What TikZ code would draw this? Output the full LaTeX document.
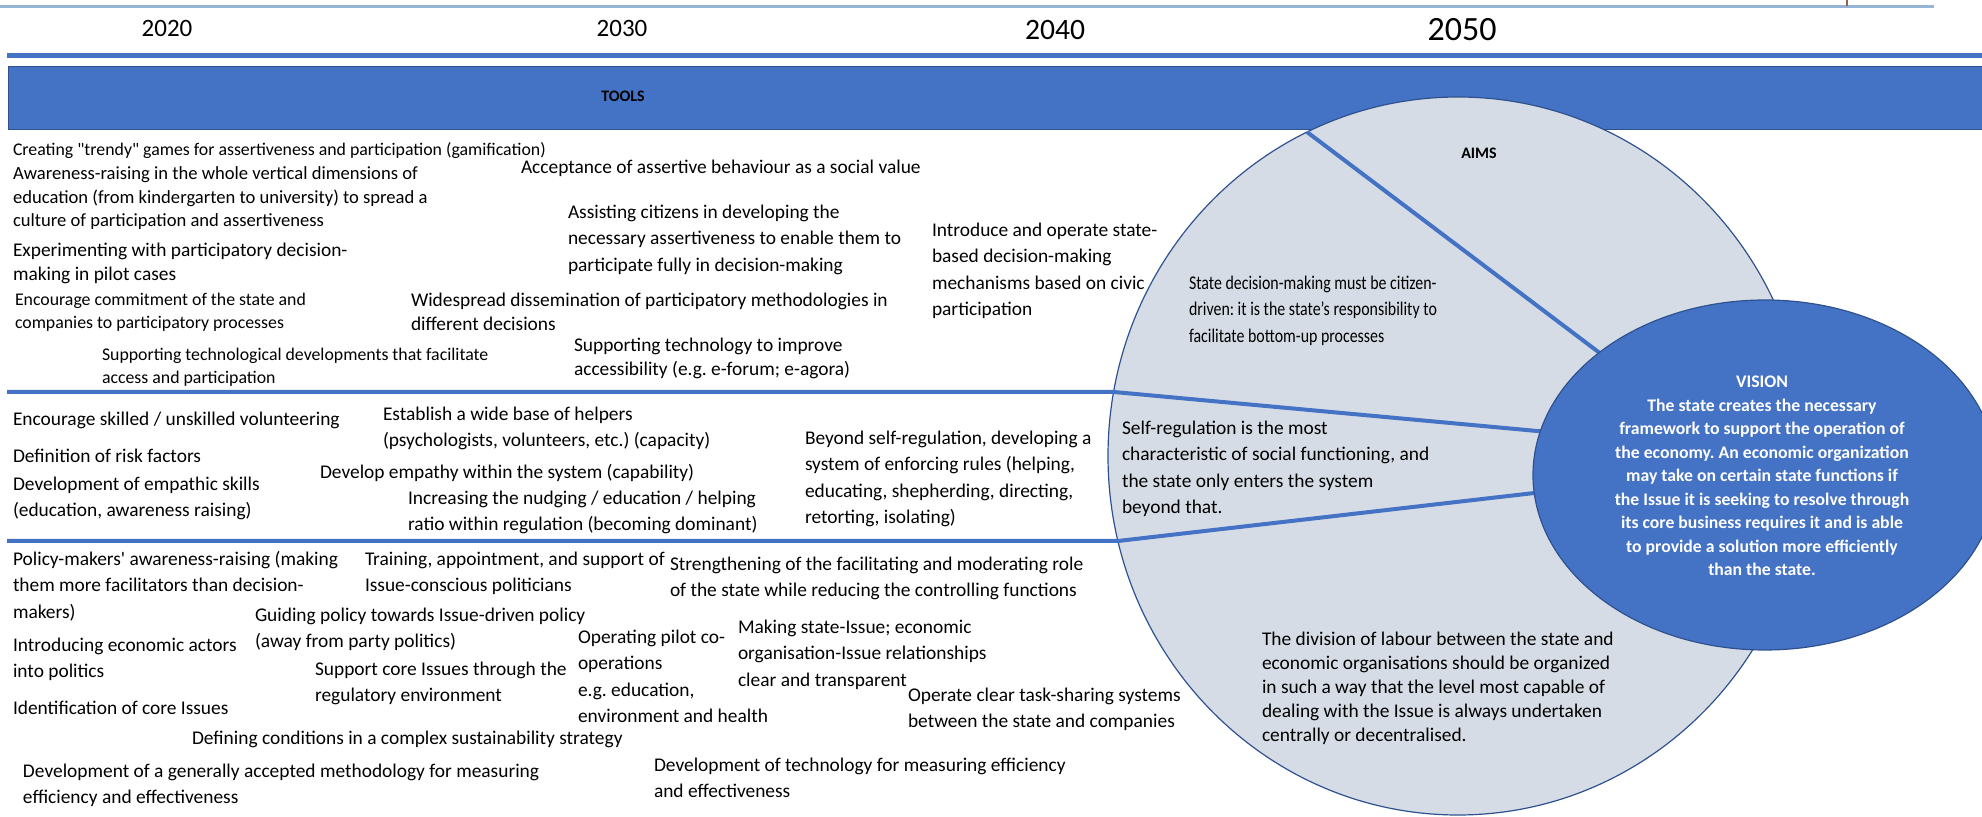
\documentclass[tikz,border=0pt]{standalone}
\usepackage{fontspec}
\setmainfont{Carlito}[Ligatures=TeXOff]
\usetikzlibrary{shapes.geometric}
\definecolor{bandblue}{RGB}{68,114,196}
\definecolor{edgeblue}{RGB}{47,82,143}
\definecolor{ellfill}{RGB}{214,220,229}
\definecolor{toprule}{RGB}{150,180,214}
\definecolor{tickcol}{RGB}{140,100,80}
\begin{document}
\frenchspacing
\begin{tikzpicture}[x=0.5pt,y=-0.5pt,
  txt/.style={anchor=north west, inner sep=0pt, outer sep=0pt, align=left,
    font=\fontsize{9.7pt}{13.25pt}\selectfont, execute at begin node=\strut},
  small/.style={font=\fontsize{8.9pt}{11.75pt}\selectfont},
  mid/.style={font=\fontsize{9.3pt}{11.75pt}\selectfont},
  tight/.style={font=\fontsize{9.7pt}{12pt}\selectfont},
  narrow/.style={xscale=0.82, transform shape},
  year/.style={inner sep=0pt, outer sep=0pt},
  head/.style={inner sep=0pt, font=\fontsize{8pt}{10pt}\selectfont\bfseries},
  divider/.style={draw=bandblue, line width=2pt},
  aimsell/.style={ellipse, fill=ellfill, draw=edgeblue, line width=0.6pt, inner sep=0pt, outer sep=0pt},
  visionell/.style={ellipse, fill=bandblue, draw=edgeblue, line width=0.6pt, inner sep=0pt, outer sep=0pt},
  visiontxt/.style={inner sep=0pt, align=center, text=white, font=\fontsize{8.85pt}{11.75pt}\selectfont\bfseries}]
\useasboundingbox (0,0) rectangle (1982,817);
\fill[white] (0,0) rectangle (1982,817);
% header
\coordinate (tl0) at (0,7);
\coordinate (tl1) at (1934,7);
\draw[toprule, line width=1.5pt] (tl0) -- (tl1);
\coordinate (tk0) at (1847,0);
\coordinate (tk1) at (1847,6);
\draw[tickcol, line width=1pt] (tk0) -- (tk1);
\node[year, font=\fontsize{12.5pt}{15pt}\selectfont] (y2020) at (167,28) {2020};
\node[year, font=\fontsize{12.5pt}{15pt}\selectfont] (y2030) at (622,28) {2030};
\node[year, font=\fontsize{14.8pt}{17pt}\selectfont] (y2040) at (1055,30) {2040};
\node[year, font=\fontsize{17pt}{20pt}\selectfont] (y2050) at (1462,30) {2050};
\coordinate (th0) at (7,56);
\coordinate (th1) at (1982,56);
\draw[bandblue, line width=2.5pt] (th0) -- (th1);
% band
\node[rectangle, fill=bandblue, draw=edgeblue, line width=0.5pt, inner sep=0pt, outer sep=0pt,
  minimum width=988pt, minimum height=31.5pt] (band) at (996,98.5) {};
\node[head] (tools) at (623,96) {TOOLS};
% aims ellipse
\node[aimsell, minimum width=350pt, minimum height=359pt] (aims) at (1458,456) {};
\node[head] (aimslbl) at (1479,153) {AIMS};
% dividers
\coordinate (d0a) at (1307,132);
\coordinate (d0b) at (1605,357);
\draw[divider] (d0a) -- (d0b);
\coordinate (d1a) at (7,392);
\coordinate (d1b) at (1114,392);
\coordinate (d1c) at (1548,432);
\draw[divider] (d1a) -- (d1b) -- (d1c);
\coordinate (d2a) at (7,541);
\coordinate (d2b) at (1118,541);
\coordinate (d2c) at (1543,492);
\draw[divider] (d2a) -- (d2b) -- (d2c);
% vision
\node[visionell, minimum width=232pt, minimum height=175pt] (vision) at (1765,475) {};
\node[visiontxt] (visiontext) at (1762,476) {VISION\\The state creates the necessary\\framework to support the operation of\\the economy. An economic organization\\may take on certain state functions if\\the Issue it is seeking to resolve through\\its core business requires it and is able\\to provide a solution more efficiently\\than the state.};
% tools texts
\node[txt, small] (t1) at (13,139) {Creating "trendy" games for assertiveness and participation (gamification)};
\node[txt, mid] (t2) at (13,167) {Awareness-raising in the whole vertical dimensions of\\education (from kindergarten to university) to spread a\\culture of participation and assertiveness};
\node[txt, tight] (t3) at (13,243) {Experimenting with participatory decision-\\making in pilot cases};
\node[txt, small] (t4) at (15,293) {Encourage commitment of the state and\\companies to participatory processes};
\node[txt, small] (t5) at (102,348) {Supporting technological developments that facilitate\\access and participation};
\node[txt] (t6) at (521,155) {Acceptance of assertive behaviour as a social value};
\node[txt] (t7) at (568,205) {Assisting citizens in developing the\\necessary assertiveness to enable them to\\participate fully in decision-making};
\node[txt, tight] (t8) at (411,293) {Widespread dissemination of participatory methodologies in\\different decisions};
\node[txt, tight] (t9) at (574,338) {Supporting technology to improve\\accessibility (e.g. e-forum; e-agora)};
\node[txt] (t10) at (932,223) {Introduce and operate state-\\based decision-making\\mechanisms based on civic\\participation};
% middle texts
\node[txt] (m1) at (13,407) {Encourage skilled / unskilled volunteering};
\node[txt] (m2) at (13,444) {Definition of risk factors};
\node[txt] (m3) at (13,477) {Development of empathic skills\\(education, awareness raising)};
\node[txt] (m4) at (383,407) {Establish a wide base of helpers\\(psychologists, volunteers, etc.) (capacity)};
\node[txt] (m5) at (320,460) {Develop empathy within the system (capability)};
\node[txt] (m6) at (408,491) {Increasing the nudging / education / helping\\ratio within regulation (becoming dominant)};
\node[txt] (m7) at (805,431) {Beyond self-regulation, developing a\\system of enforcing rules (helping,\\educating, shepherding, directing,\\retorting, isolating)};
% bottom texts
\node[txt] (b1) at (13,551) {Policy-makers' awareness-raising (making\\them more facilitators than decision-\\makers)};
\node[txt] (b2) at (13,638) {Introducing economic actors\\into politics};
\node[txt] (b3) at (13,696) {Identification of core Issues};
\node[txt] (b4) at (23,764) {Development of a generally accepted methodology for measuring\\efficiency and effectiveness};
\node[txt] (b5) at (365,552) {Training, appointment, and support of\\Issue-conscious politicians};
\node[txt] (b6) at (255,608) {Guiding policy towards Issue-driven policy\\(away from party politics)};
\node[txt] (b7) at (315,662) {Support core Issues through the\\regulatory environment};
\node[txt] (b8) at (192,726) {Defining conditions in a complex sustainability strategy};
\node[txt] (b9) at (670,557) {Strengthening of the facilitating and moderating role\\of the state while reducing the controlling functions};
\node[txt] (b10) at (578,630) {Operating pilot co-\\operations\\e.g. education,\\environment and health};
\node[txt] (b11) at (738,620) {Making state-Issue; economic\\organisation-Issue relationships\\clear and transparent};
\node[txt] (b12) at (908,688) {Operate clear task-sharing systems\\between the state and companies};
\node[txt] (b13) at (654,758) {Development of technology for measuring efficiency\\and effectiveness};
% aims texts
\node[txt, narrow] (a1) at (1189,276) {State decision-making must be citizen-\\driven: it is the state’s responsibility to\\facilitate bottom-up processes};
\node[txt] (a2) at (1122,421) {Self-regulation is the most\\characteristic of social functioning, and\\the state only enters the system\\beyond that.};
\node[txt, tight] (a3) at (1262,632) {The division of labour between the state and\\economic organisations should be organized\\in such a way that the level most capable of\\dealing with the Issue is always undertaken\\centrally or decentralised.};
\end{tikzpicture}
\end{document}
